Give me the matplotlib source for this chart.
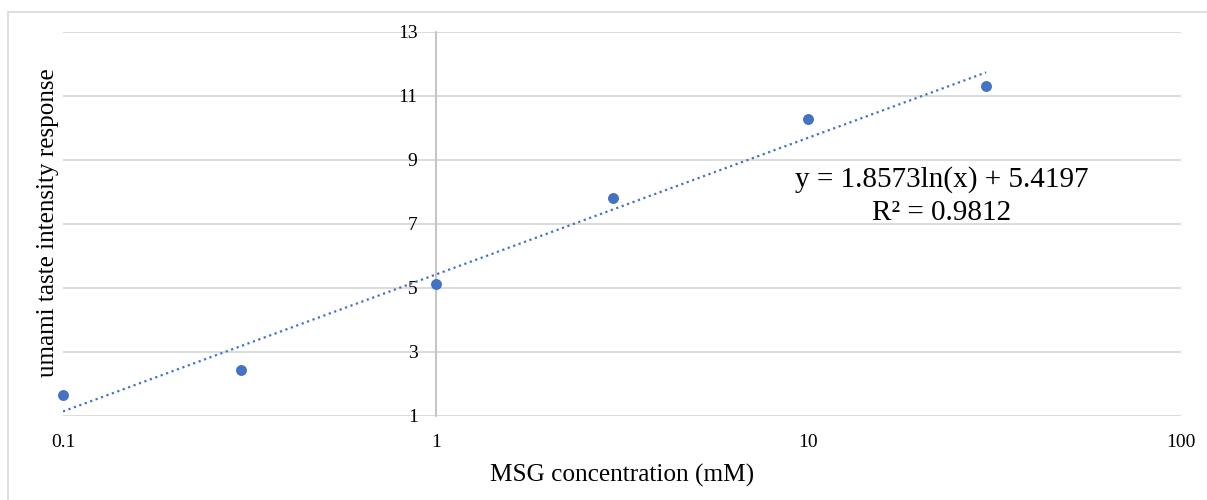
import numpy as np
import matplotlib.pyplot as plt
from matplotlib.patches import Rectangle

# MSG taste response data
concentration = [0.1, 0.3, 1, 3, 10, 30]
response = [1.66, 2.44, 5.12, 7.81, 10.28, 11.31]

# logarithmic trendline coefficients
slope = 1.8573
intercept = 5.4197
r_squared = 0.9812

y_ticks = [1, 3, 5, 7, 9, 11, 13]
x_ticks = [0.1, 1, 10, 100]
x_tick_labels = ["0.1", "1", "10", "100"]

blue = "#4472C4"
grid_gray = "#d9d9d9"


def main():
    plt.rcParams["font.family"] = ["Liberation Serif", "DejaVu Serif"]

    fig = plt.figure(figsize=(12.07, 5.0), dpi=100)
    ax = fig.add_axes([63 / 1207, 1 - 416 / 500, 1118 / 1207, 384 / 500])

    # outer chart frame
    fig.patches.append(Rectangle((8 / 1207, -0.1), 2.0, 1 - 12 / 500 + 0.1,
                                 transform=fig.transFigure, fill=False,
                                 edgecolor=grid_gray, linewidth=1.2))

    ax.set_xscale("log")
    ax.set_xlim(0.1, 100)
    ax.set_ylim(1, 13)

    for yv in y_ticks:
        ax.axhline(yv, color=grid_gray, linewidth=1.3, zorder=0)

    xs = np.logspace(np.log10(concentration[0]), np.log10(concentration[-1]), 200)
    ax.plot(xs, slope * np.log(xs) + intercept, color=blue,
            linewidth=1.6, linestyle=(0, (1, 1.6)), zorder=2)
    ax.scatter(concentration, response, s=62, color=blue, zorder=3,
               linewidths=0, clip_on=False)

    for side in ["top", "right", "bottom"]:
        ax.spines[side].set_visible(False)
    ax.spines["left"].set_position(("data", 1))
    ax.spines["left"].set_color("#bfbfbf")
    ax.spines["left"].set_linewidth(1.3)

    ax.set_yticks(y_ticks)
    ax.set_yticklabels([str(v) for v in y_ticks])
    ax.set_xticks(x_ticks)
    ax.set_xticklabels(x_tick_labels)
    ax.xaxis.set_minor_locator(plt.NullLocator())
    ax.tick_params(axis="y", length=0, pad=13, labelsize=14)
    ax.tick_params(axis="x", length=0, pad=13, labelsize=14)

    ax.set_xlabel("MSG concentration (mM)", fontsize=18.2, labelpad=9)
    fig.text(48 / 1207, 1 - 223 / 500, "umami taste intensity response",
             rotation=90, ha="center", va="center", fontsize=18.1)

    ax.text(0.786, 0.574,
            f"y = {slope}ln(x) + {intercept}\nR\u00b2 = {r_squared}",
            transform=ax.transAxes, ha="center", va="center",
            fontsize=21, linespacing=1.35)

    fig.savefig("out.png", dpi=100)


if __name__ == "__main__":
    main()
